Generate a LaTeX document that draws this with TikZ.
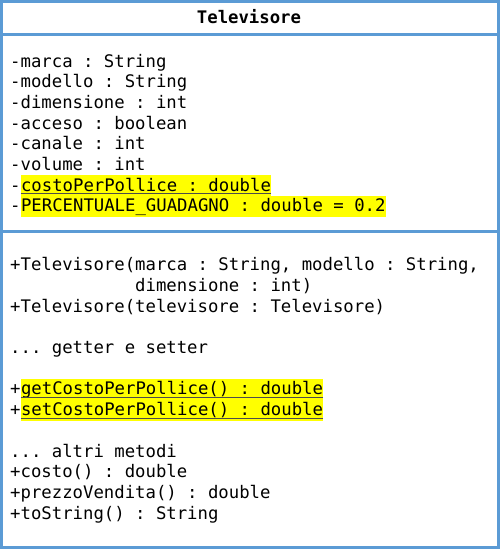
\documentclass[tikz,border=0pt]{standalone}
\usepackage{fontspec}
\setmonofont{DejaVu Sans Mono}
\usepackage{xcolor}
\usepackage{tikz}
\definecolor{umlblue}{HTML}{5B9BD5}
\definecolor{hlyellow}{HTML}{FFFF00}
\newcommand{\umlfont}{\fontsize{17.3}{20.7}\selectfont\ttfamily}

\begin{document}
\begin{tikzpicture}[x=1pt,y=1pt,
      frame/.style={draw=umlblue,line width=3pt},
      member/.style={anchor=base west,inner sep=0pt,font=\umlfont},
      marked/.style={member,fill=hlyellow,text height=16pt,text depth=5pt},
      static line/.style={draw=black!70,line width=0.8pt}]
      \useasboundingbox (0,0) rectangle (500,-549);

      % class box
      \draw[frame] (1.5,-1.5) rectangle (498.5,-547.5);
      \coordinate (s1l) at (1.5,-34.5);
      \coordinate (s1r) at (498.5,-34.5);
      \coordinate (s2l) at (1.5,-231);
      \coordinate (s2r) at (498.5,-231);
      \draw[frame] (s1l) -- (s1r);
      \draw[frame] (s2l) -- (s2r);

      % name
      \node[font=\umlfont\bfseries,anchor=base,inner sep=0pt] (name) at (249,-23.3) {Televisore};

      % attributes
      \node[member] (a1) at (10,-67) {-marca : String};
      \node[member] (a2) at (10,-87.7) {-modello : String};
      \node[member] (a3) at (10,-108.4) {-dimensione : int};
      \node[member] (a4) at (10,-129.1) {-acceso : boolean};
      \node[member] (a5) at (10,-149.8) {-canale : int};
      \node[member] (a6) at (10,-170.5) {-volume : int};
      \node[member] (a7m) at (10,-191.2) {-};
      \node[marked] (a7) at (a7m.base east) {costoPerPollice : double};
      \node[member] (a8m) at (10,-211.9) {-};
      \node[marked] (a8) at (a8m.base east) {PERCENTUALE\_GUADAGNO : double = 0.2};
      \draw[static line] ([yshift=-2.5pt]a7.base west) -- ([yshift=-2.5pt]a7.base east);

      % operations
      \node[member] (m1) at (10,-270.7) {+Televisore(marca : String, modello : String,};
      \node[member] (m2) at (10,-291.4) {\hphantom{+Televisore(}dimensione : int)};
      \node[member] (m3) at (10,-312.1) {+Televisore(televisore : Televisore)};
      \node[member] (m4) at (10,-353.5) {... getter e setter};
      \node[member] (m5m) at (10,-394.9) {+};
      \node[marked] (m5) at (m5m.base east) {getCostoPerPollice() : double};
      \node[member] (m6m) at (10,-415.6) {+};
      \node[marked] (m6) at (m6m.base east) {setCostoPerPollice() : double};
      \draw[static line] ([yshift=-2.5pt]m5.base west) -- ([yshift=-2.5pt]m5.base east);
      \draw[static line] ([yshift=-2.5pt]m6.base west) -- ([yshift=-2.5pt]m6.base east);
      \node[member] (m7) at (10,-457) {... altri metodi};
      \node[member] (m8) at (10,-477.7) {+costo() : double};
      \node[member] (m9) at (10,-498.4) {+prezzoVendita() : double};
      \node[member] (m10) at (10,-519.1) {+toString() : String};
\end{tikzpicture}
\end{document}
